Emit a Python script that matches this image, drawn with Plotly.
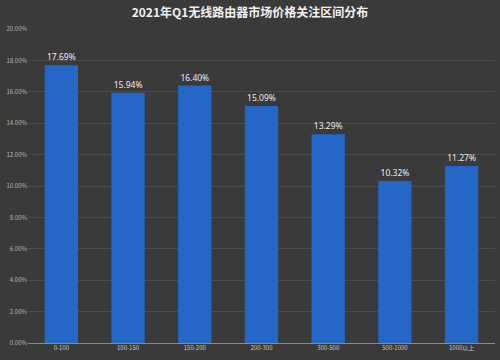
import plotly.graph_objects as go

categories = ["0-100", "100-150", "150-200", "200-300", "300-500", "500-1000", "1000以上"]
values = [17.69, 15.94, 16.40, 15.09, 13.29, 10.32, 11.27]
tick_vals = [0, 2, 4, 6, 8, 10, 12, 14, 16, 18, 20]
tick_text = [f"{v:.2f}%" for v in tick_vals]
title_text = "2021年Q1无线路由器市场价格关注区间分布"

fig = go.Figure(go.Bar(
    x=categories, y=values,
    text=[f"{v:.2f}%" for v in values],
    textposition="outside",
    textfont=dict(color="#ececec", size=8.5, family="Noto Sans"),
    cliponaxis=False,
    marker=dict(color="#2467c6", line=dict(width=0)),
    width=0.5,
))

fig.update_layout(
    width=500, height=360,
    paper_bgcolor="#3a3a3a", plot_bgcolor="#3a3a3a",
    margin=dict(l=28, r=5, t=29, b=17, autoexpand=False),
    title=dict(text="<b>" + title_text + "</b>", x=0.5, y=0.965, xanchor="center", yanchor="middle",
               font=dict(color="#f0f0f0", size=12, family="Noto Sans CJK SC")),
    showlegend=False,
    font=dict(family="Noto Sans CJK SC"),
)
fig.update_yaxes(range=[0, 20], tickvals=tick_vals, ticktext=tick_text, automargin=False,
                 tickfont=dict(color="#b5b5b5", size=6), gridcolor="#4c4c4c", gridwidth=1,
                 zeroline=True, zerolinecolor="#8a8a8a", zerolinewidth=1, showline=False, ticklen=0)
fig.update_xaxes(tickfont=dict(color="#c8c8c8", size=6), showline=False, ticklen=0, automargin=False)

fig.write_html("out.html", config={"displayModeBar": False},
               post_script="document.body.style.margin='0';document.body.style.background='#3a3a3a';")
